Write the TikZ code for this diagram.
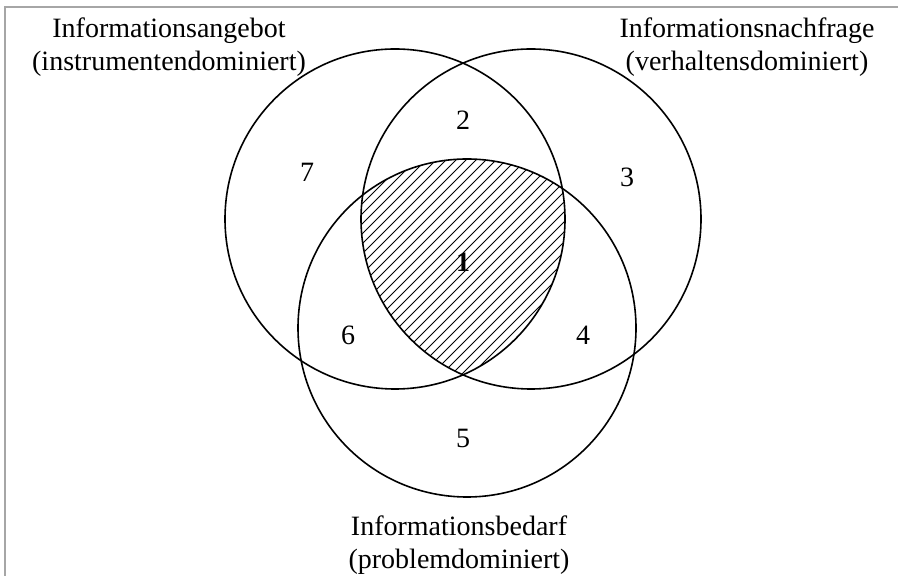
\documentclass[tikz,border=0pt]{standalone}
\usepackage{fontspec}
\setmainfont{Liberation Serif}
\tikzset{
  venn/.style={line width=1.6pt},
  hatchline/.style={line width=1pt},
  setlabel/.style={align=center,font=\fontsize{28}{33}\selectfont},
  region/.style={font=\fontsize{28}{33}\selectfont}
}
\begin{document}
\begin{tikzpicture}[x=1pt,y=1pt]
\useasboundingbox (0,0) rectangle (903,576);
%frame
\draw[gray!70,line width=1.2pt](5,0)--(5,569)--(898,569);

\coordinate (angebot) at (395,357);
\coordinate (nachfrage) at (531,357);
\coordinate (bedarf) at (467,248);

%hatched core
\begin{scope}
\clip (angebot) circle (170);
\clip (nachfrage) circle (170);
\clip (bedarf) circle (169);
\foreach \x in {140,150,...,570}
  \draw[hatchline] (\x,200) -- ++(230,230);
\end{scope}

\draw[venn] (angebot) circle (170);
\draw[venn] (nachfrage) circle (170);
\draw[venn] (bedarf) circle (169);

\node[region] (r1) at (463,314) {\textbf{1}};
\node[region] (r2) at (463,456) {2};
\node[region] (r3) at (627,399) {3};
\node[region] (r4) at (583,241) {4};
\node[region] (r5) at (463,138) {5};
\node[region] (r6) at (348,241) {6};
\node[region] (r7) at (307,404) {7};

\node[setlabel] (angebotlbl) at (169,529) {Informationsangebot\\(instrumentendominiert)};
\node[setlabel] (nachfragelbl) at (747,529) {Informationsnachfrage\\(verhaltensdominiert)};
\node[setlabel] (bedarflbl) at (459,31) {Informationsbedarf\\(problemdominiert)};
\end{tikzpicture}
\end{document}
